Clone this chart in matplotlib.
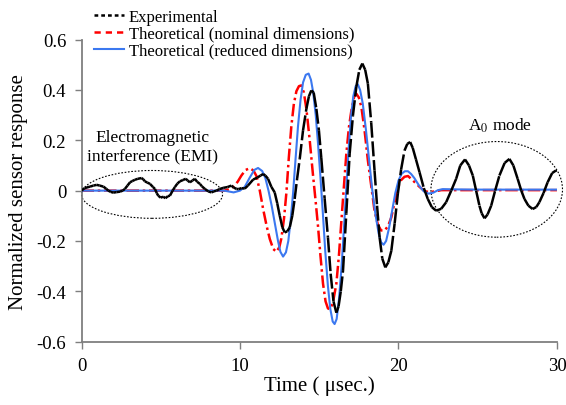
"""sensor response vs time: experiment against two theoretical models"""

import numpy as np
import matplotlib.pyplot as plt
from matplotlib.collections import LineCollection
from matplotlib.lines import Line2D
from matplotlib.patches import Ellipse

plt.rcParams['font.family'] = ['Liberation Serif', 'DejaVu Serif']
plt.rcParams['mathtext.fontset'] = 'stix'

# experimental trace (time in microseconds, normalized response)
exp_t = [0.0, 0.2, 0.54, 0.75, 0.96, 1.15, 1.38, 1.55, 1.69, 1.85, 2.0, 2.2, 2.43, 2.6,
         2.74, 2.9, 3.06, 3.2, 3.37, 3.55, 3.79, 3.9, 4.0, 4.15, 4.32, 4.5, 4.63, 4.75,
         4.84, 5.0, 5.15, 5.3, 5.45, 5.58, 5.75, 5.89, 6.05, 6.21, 6.4, 6.58, 6.7, 6.84,
         7.0, 7.15, 7.3, 7.47, 7.6, 7.78, 8.0, 8.2, 8.35, 8.52, 8.7, 8.94, 9.2, 9.46,
         9.6, 9.78, 9.9, 10.1, 10.3, 10.5, 10.83, 11.1, 11.3, 11.46, 11.6, 11.77, 11.98,
         12.19, 12.35, 12.51, 12.67, 12.82, 12.98, 13.14, 13.3, 13.45, 13.61, 13.77,
         13.98, 14.19, 14.35, 14.5, 14.65, 14.82, 14.98, 15.13, 15.34, 15.55, 15.72,
         15.9, 16.08, 16.22, 16.36, 16.5, 16.71, 16.92, 17.13, 17.34, 17.53, 17.72, 17.9,
         18.07, 18.28, 18.49, 18.65, 18.81, 18.98, 19.17, 19.36, 19.55, 19.76, 19.96,
         20.17, 20.38, 20.56, 20.74, 20.9, 21.1, 21.33, 21.6, 21.85, 22.1, 22.38, 22.7,
         23.01, 23.33, 23.64, 23.9, 24.2, 24.45, 24.69, 24.9, 25.11, 25.25, 25.43, 25.62,
         25.85, 26.1, 26.37, 26.7, 27.0, 27.25, 27.52, 27.75, 27.95, 28.2, 28.47, 28.7,
         28.89, 29.15, 29.41, 29.7, 29.94, 30.0]
exp_v = [0.0, 0.01, 0.016, 0.02, 0.023, 0.02, 0.016, 0.008, 0.0, -0.005, -0.008, -0.006,
         -0.004, 0.0, 0.007, 0.02, 0.033, 0.038, 0.043, 0.047, 0.05, 0.045, 0.037, 0.032,
         0.027, 0.015, 0.007, -0.01, -0.02, -0.028, -0.024, -0.03, -0.022, -0.02, 0.0,
         0.014, 0.028, 0.037, 0.042, 0.047, 0.04, 0.033, 0.04, 0.047, 0.035, 0.027, 0.017,
         0.007, -0.003, -0.007, -0.003, 0.0, 0.006, 0.011, 0.014, 0.02, 0.012, 0.007,
         0.006, 0.01, 0.008, 0.02, 0.044, 0.052, 0.06, 0.066, 0.06, 0.047, 0.015, -0.007,
         -0.05, -0.1, -0.145, -0.166, -0.162, -0.146, -0.1, -0.033, 0.05, 0.126, 0.24,
         0.325, 0.375, 0.398, 0.39, 0.325, 0.24, 0.13, -0.03, -0.186, -0.33, -0.44,
         -0.485, -0.46, -0.4, -0.319, -0.09, 0.146, 0.3, 0.412, 0.48, 0.505, 0.48, 0.425,
         0.27, 0.08, -0.06, -0.186, -0.27, -0.305, -0.285, -0.239, -0.13, -0.013, 0.085,
         0.159, 0.186, 0.193, 0.17, 0.125, 0.073, 0.01, -0.033, -0.065, -0.08, -0.072,
         -0.046, 0.0, 0.047, 0.1, 0.124, 0.1, 0.06, 0.0, -0.06, -0.09, -0.11, -0.095,
         -0.06, 0.0, 0.06, 0.11, 0.126, 0.1, 0.047, 0.0, -0.033, -0.06, -0.073, -0.065,
         -0.046, -0.01, 0.033, 0.07, 0.08, 0.078]

# theory, nominal plate dimensions
nom_t = [0.0, 3.0, 6.0, 9.0, 9.3, 9.57, 9.85, 10.09, 10.35, 10.62, 10.85, 11.04, 11.25,
         11.46, 11.68, 11.88, 12.1, 12.3, 12.48, 12.61, 12.78, 12.93, 13.08, 13.24, 13.4,
         13.56, 13.72, 13.87, 14.03, 14.19, 14.4, 14.61, 14.77, 14.92, 15.08, 15.24, 15.4,
         15.55, 15.66, 15.85, 16.08, 16.24, 16.4, 16.55, 16.71, 16.87, 17.03, 17.2, 17.34,
         17.5, 17.66, 17.86, 18.07, 18.28, 18.49, 18.7, 18.9, 19.12, 19.35, 19.55, 19.76,
         19.96, 20.17, 20.38, 20.6, 20.8, 21.0, 21.33, 21.65, 21.96, 22.3, 22.7, 23.5,
         26.0, 30.0]
nom_v = [0.0, 0.0, 0.0, 0.0, 0.005, 0.015, 0.035, 0.06, 0.082, 0.089, 0.08, 0.058, 0.0,
         -0.073, -0.14, -0.192, -0.232, -0.243, -0.225, -0.19, -0.11, -0.007, 0.13, 0.255,
         0.345, 0.395, 0.415, 0.418, 0.39, 0.325, 0.2, 0.06, -0.04, -0.139, -0.26, -0.37,
         -0.44, -0.468, -0.471, -0.45, -0.37, -0.26, -0.119, 0.01, 0.146, 0.25, 0.319,
         0.372, 0.385, 0.37, 0.332, 0.24, 0.12, 0.02, -0.08, -0.135, -0.158, -0.159, -0.14,
         -0.106, -0.045, 0.013, 0.042, 0.055, 0.058, 0.047, 0.035, 0.015, -0.002, -0.006,
         -0.003, 0.002, 0.002, 0.002, 0.002]

# theory, reduced plate dimensions
red_t = [0.0, 3.0, 6.0, 9.0, 9.6, 10.0, 10.3, 10.6, 10.9, 11.14, 11.4, 11.6, 11.8, 12.0,
         12.2, 12.4, 12.55, 12.72, 12.9, 13.05, 13.2, 13.35, 13.5, 13.66, 13.82, 13.98,
         14.15, 14.33, 14.48, 14.62, 14.78, 14.92, 15.07, 15.22, 15.38, 15.55, 15.7, 15.85,
         15.97, 16.1, 16.25, 16.4, 16.55, 16.7, 16.85, 17.0, 17.15, 17.3, 17.44, 17.58,
         17.75, 17.95, 18.15, 18.35, 18.55, 18.75, 18.9, 19.06, 19.22, 19.4, 19.6, 19.8,
         20.0, 20.2, 20.4, 20.6, 20.8, 21.0, 21.3, 21.6, 21.9, 22.2, 22.5, 22.8, 23.5,
         25.0, 27.0, 30.0]
red_v = [0.0, 0.0, 0.0, 0.0, -0.007, 0.0, 0.015, 0.05, 0.082, 0.09, 0.078, 0.05, 0.0,
         -0.06, -0.13, -0.2, -0.243, -0.262, -0.245, -0.2, -0.115, -0.01, 0.12, 0.255,
         0.36, 0.43, 0.46, 0.465, 0.44, 0.39, 0.3, 0.19, 0.06, -0.08, -0.24, -0.38, -0.47,
         -0.52, -0.53, -0.51, -0.43, -0.31, -0.16, 0.0, 0.16, 0.29, 0.375, 0.415, 0.422,
         0.4, 0.345, 0.24, 0.12, 0.0, -0.095, -0.17, -0.205, -0.215, -0.2, -0.15, -0.08,
         -0.01, 0.04, 0.067, 0.077, 0.077, 0.066, 0.05, 0.02, -0.003, -0.012, -0.008,
         0.002, 0.006, 0.005, 0.004, 0.004, 0.004]

BLUE = '#3b78f0'
GRAY = '#7f7f7f'

fig = plt.figure(figsize=(5.66, 4.06), dpi=100)
ax = fig.add_axes([0.144, 0.156, 0.840, 0.744])

ax.plot(red_t, red_v, color=BLUE, lw=1.5, zorder=3)
ax.plot(nom_t, nom_v, color='red', lw=1.8,
        linestyle=(0, (5, 1.5, 1, 1.5)), zorder=2)

# dash pattern restarts on every segment, so flat noisy parts read as solid
pts = np.column_stack([exp_t, exp_v])
segs = np.stack([pts[:-1], pts[1:]], axis=1)
ax.add_collection(LineCollection(segs, colors='black', linewidths=1.8,
                                 linestyles=(0, (6, 1.5)), capstyle='butt',
                                 zorder=4))

# regions of interest
ax.add_patch(Ellipse((4.45, -0.015), 8.9, 0.19, fill=False, ec='black',
                     lw=0.8, ls=(0, (1.5, 1.5)), clip_on=False))
ax.add_patch(Ellipse((26.2, 0.005), 8.3, 0.38, fill=False, ec='black',
                     lw=0.8, ls=(0, (1.5, 1.5)), clip_on=False))
ax.text(4.45, 0.175, 'Electromagnetic\ninterference (EMI)', ha='center',
        va='center', fontsize=12.5, linespacing=1.3)
ax.text(26.4, 0.26, r'A$_0$ mode', ha='center', va='center', fontsize=12.5)

ax.set_xlim(0, 30)
ax.set_ylim(-0.6, 0.6)
ax.set_xticks([0, 10, 20, 30])
ax.set_yticks([-0.6, -0.4, -0.2, 0, 0.2, 0.4, 0.6])
ax.set_yticklabels(['-0.6', '-0.4', '-0.2', '0', '0.2', '0.4', '0.6'])
for side in ['top', 'right']:
    ax.spines[side].set_visible(False)
for side in ['left', 'bottom']:
    ax.spines[side].set_color(GRAY)
    ax.spines[side].set_linewidth(1.3)
ax.tick_params(direction='out', length=5, width=1.0, color=GRAY,
               labelsize=13.5, pad=6)

ax.set_xlabel('Time ( μsec.)', fontsize=15, labelpad=1)
ax.set_ylabel('Normalized sensor response', fontsize=15, labelpad=6)

handles = [
    Line2D([], [], color='black', lw=1.8, ls=(0, (1.5, 1.2))),
    Line2D([], [], color='red', lw=1.8, ls=(0, (2.5, 2))),
    Line2D([], [], color=BLUE, lw=1.5),
]
labels = ['Experimental', 'Theoretical (nominal dimensions)',
          'Theoretical (reduced dimensions)']
fig.legend(handles, labels, loc='upper left', bbox_to_anchor=(0.148, 1.0),
           frameon=False, fontsize=12, handlelength=1.8, handletextpad=0.3,
           labelspacing=0.05, borderaxespad=0.2)

fig.savefig('out.png', dpi=100)
